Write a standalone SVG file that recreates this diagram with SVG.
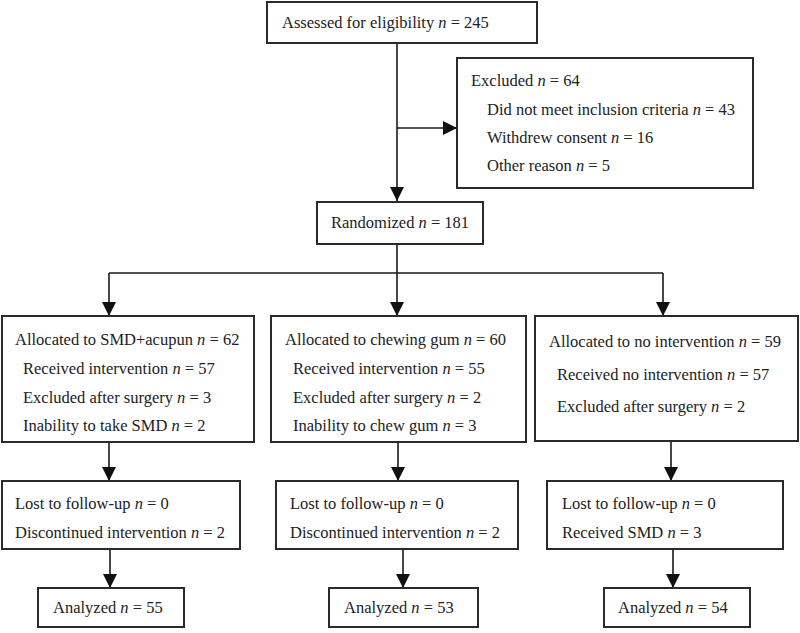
<svg xmlns="http://www.w3.org/2000/svg" width="800" height="633" viewBox="0 0 800 633">
<defs>
<style>
.box{fill:#fff;stroke:#2a2a2a;stroke-width:2}
.ln{fill:none;stroke:#1a1a1a;stroke-width:1.6}
.i{font-style:italic}
</style>
<marker id="ah" markerWidth="14" markerHeight="15" refX="14" refY="7" orient="auto" markerUnits="userSpaceOnUse">
<path d="M0,0 L14,7 L0,14 Z" fill="#111"/>
</marker>
</defs>
<rect width="800" height="633" fill="#fff"/>
<g id="connectors">
<path class="ln" d="M397,43 V201" marker-end="url(#ah)"/>
<path class="ln" d="M397,128 H457" marker-end="url(#ah)"/>
<path class="ln" d="M397,244 V273"/>
<path class="ln" d="M109,273 H663"/>
<path class="ln" d="M109,273 V316" marker-end="url(#ah)"/>
<path class="ln" d="M397,273 V316" marker-end="url(#ah)"/>
<path class="ln" d="M663,273 V316" marker-end="url(#ah)"/>
<path class="ln" d="M109,442 V481" marker-end="url(#ah)"/>
<path class="ln" d="M398,442 V481" marker-end="url(#ah)"/>
<path class="ln" d="M671,441 V481" marker-end="url(#ah)"/>
<path class="ln" d="M110,549 V588" marker-end="url(#ah)"/>
<path class="ln" d="M403,549 V588" marker-end="url(#ah)"/>
<path class="ln" d="M673,549 V588" marker-end="url(#ah)"/>
</g>
<g font-family="Liberation Serif, serif" font-size="16.5" fill="#222">
<g id="assessed"><rect class="box" x="267" y="2" width="270" height="41"/><text x="282" y="28">Assessed for eligibility <tspan class="i">n</tspan> = 245</text></g>
<g id="excluded"><rect class="box" x="457" y="58" width="296" height="130"/>
<text x="471" y="86">Excluded <tspan class="i">n</tspan> = 64</text>
<text x="487" y="115">Did not meet inclusion criteria <tspan class="i">n</tspan> = 43</text>
<text x="487" y="143">Withdrew consent <tspan class="i">n</tspan> = 16</text>
<text x="487" y="171">Other reason <tspan class="i">n</tspan> = 5</text></g>
<g id="randomized"><rect class="box" x="317" y="202" width="166" height="42"/><text x="331" y="228">Randomized <tspan class="i">n</tspan> = 181</text></g>
<g id="alloc-smd"><rect class="box" x="2" y="316" width="252" height="126"/>
<text x="15" y="345">Allocated to SMD+acupun <tspan class="i">n</tspan> = 62</text>
<text x="23" y="374">Received intervention <tspan class="i">n</tspan> = 57</text>
<text x="23" y="403">Excluded after surgery <tspan class="i">n</tspan> = 3</text>
<text x="23" y="431">Inability to take SMD <tspan class="i">n</tspan> = 2</text></g>
<g id="alloc-gum"><rect class="box" x="271" y="316" width="255" height="126"/>
<text x="285" y="345">Allocated to chewing gum <tspan class="i">n</tspan> = 60</text>
<text x="293" y="374">Received intervention <tspan class="i">n</tspan> = 55</text>
<text x="293" y="403">Excluded after surgery <tspan class="i">n</tspan> = 2</text>
<text x="293" y="431">Inability to chew gum <tspan class="i">n</tspan> = 3</text></g>
<g id="alloc-none"><rect class="box" x="535" y="316" width="263" height="125"/>
<text x="549" y="347">Allocated to no intervention <tspan class="i">n</tspan> = 59</text>
<text x="557" y="380">Received no intervention <tspan class="i">n</tspan> = 57</text>
<text x="557" y="412">Excluded after surgery <tspan class="i">n</tspan> = 2</text></g>
<g id="follow-smd"><rect class="box" x="2" y="481" width="238" height="68"/>
<text x="15" y="509">Lost to follow-up <tspan class="i">n</tspan> = 0</text>
<text x="15" y="538">Discontinued intervention <tspan class="i">n</tspan> = 2</text></g>
<g id="follow-gum"><rect class="box" x="276" y="481" width="242" height="68"/>
<text x="290" y="509">Lost to follow-up <tspan class="i">n</tspan> = 0</text>
<text x="290" y="538">Discontinued intervention <tspan class="i">n</tspan> = 2</text></g>
<g id="follow-none"><rect class="box" x="547" y="481" width="236" height="68"/>
<text x="562" y="509">Lost to follow-up <tspan class="i">n</tspan> = 0</text>
<text x="562" y="538">Received SMD <tspan class="i">n</tspan> = 3</text></g>
<g id="analyzed-smd"><rect class="box" x="38" y="588" width="146" height="39"/><text x="53" y="613">Analyzed <tspan class="i">n</tspan> = 55</text></g>
<g id="analyzed-gum"><rect class="box" x="329" y="588" width="149" height="39"/><text x="344" y="613">Analyzed <tspan class="i">n</tspan> = 53</text></g>
<g id="analyzed-none"><rect class="box" x="604" y="588" width="146" height="39"/><text x="618" y="613">Analyzed <tspan class="i">n</tspan> = 54</text></g>
</g>
</svg>
